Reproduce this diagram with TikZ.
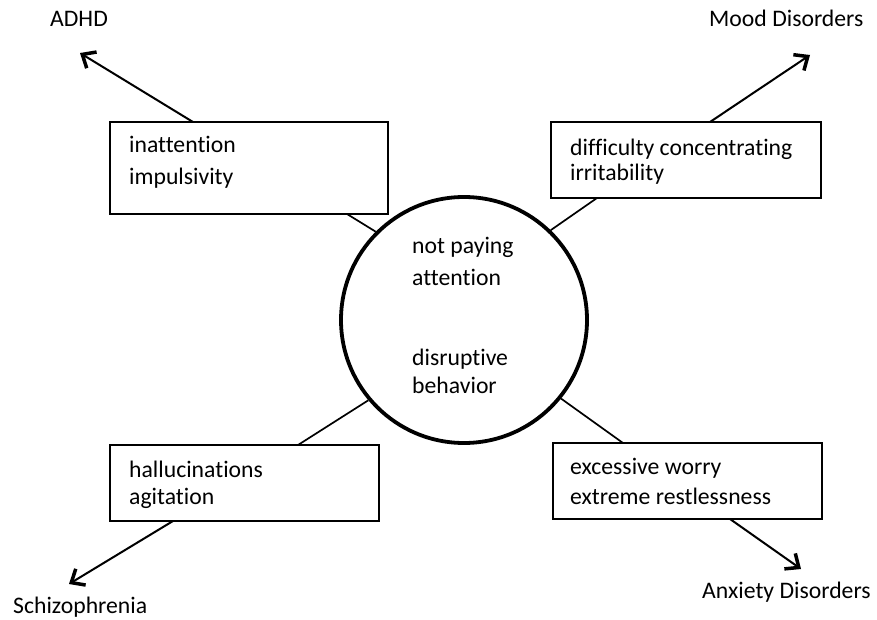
\documentclass[tikz,border=0pt]{standalone}
\usepackage{fontspec}
\setmainfont{Carlito}[Ligatures={NoCommon}]
\usetikzlibrary{arrows.meta}
\begin{document}
\begin{tikzpicture}[x=1pt,y=-1pt,
  txt/.style={anchor=base west,inner sep=0pt,font=\fontsize{23.7}{28}\selectfont},
  symbox/.style={draw,line width=1.7pt,inner sep=0pt},
  link/.style={line width=1.7pt},
  arr/.style={line width=2pt,-{Straight Barb[length=11pt,width=19pt,line width=3.5pt]}}]
\useasboundingbox (0,0) rectangle (877,620);
% central circle
\node[circle,draw,line width=3.8pt,inner sep=0pt,minimum size=246pt] (c) at (464,320) {};
% boxes
\node[symbox,minimum width=278pt,minimum height=92pt] (tl) at (249,168) {};
\node[symbox,minimum width=270pt,minimum height=76pt] (tr) at (686,160) {};
\node[symbox,minimum width=269pt,minimum height=76pt] (bl) at (244.5,483) {};
\node[symbox,minimum width=269pt,minimum height=76pt] (br) at (687.5,481) {};
% texts
\node[txt] (t1) at (129,153) {inattention};
\node[txt] (t2) at (129,185) {impulsivity};
\node[txt] (t3) at (570,156) {difficulty concentrating};
\node[txt] (t4) at (570,181) {irritability};
\node[txt] (t5) at (129,477) {hallucinations};
\node[txt] (t6) at (129,504) {agitation};
\node[txt] (t7) at (570,474) {excessive worry};
\node[txt] (t8) at (570,504) {extreme restlessness};
\node[txt] (c1) at (412,254) {not paying};
\node[txt] (c2) at (412,285) {attention};
\node[txt] (c3) at (412,365) {disruptive};
\node[txt] (c4) at (412,393) {behavior};
% outer labels
\node[txt] (adhd) at (50,27) {ADHD};
\node[txt] (mood) at (709,27) {Mood Disorders};
\node[txt] (schiz) at (13,613) {Schizophrenia};
\node[txt] (anx) at (702,598) {Anxiety Disorders};
% connector anchor points
\coordinate (tlb) at (347,214);
\coordinate (trb) at (597,198);
\coordinate (blt) at (298,445);
\coordinate (brt) at (623,443);
\coordinate (tlt) at (193,122);
\coordinate (trt) at (710,122);
\coordinate (blb) at (173,521);
\coordinate (brb) at (730,519);
\coordinate (adhdtip) at (80,53);
\coordinate (moodtip) at (810,55);
\coordinate (schiztip) at (69,584);
\coordinate (anxtip) at (801,569);
% circle links
\draw[link] (c.135) -- (tlb);
\draw[link] (c.46) -- (trb);
\draw[link] (c.220) -- (blt);
\draw[link] (c.-39) -- (brt);
% arrows
\draw[arr] (tlt) -- (adhdtip);
\draw[arr] (trt) -- (moodtip);
\draw[arr] (blb) -- (schiztip);
\draw[arr] (brb) -- (anxtip);
\end{tikzpicture}
\end{document}
